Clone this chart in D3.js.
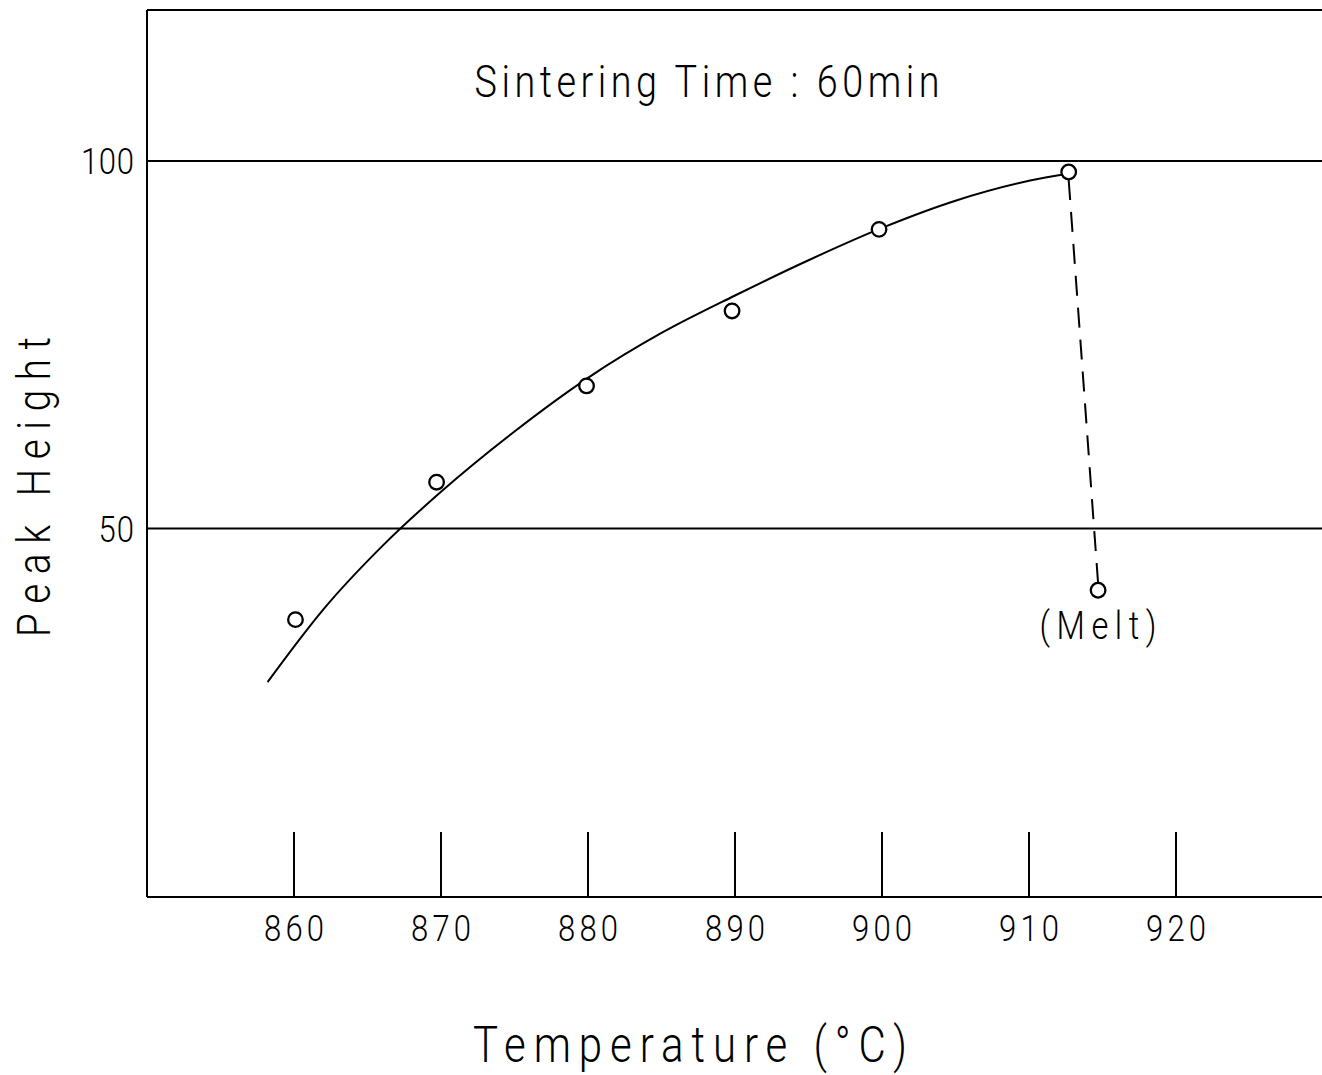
<!DOCTYPE html>
<html>
<head>
<meta charset="utf-8">
<script src="https://cdn.jsdelivr.net/npm/d3@7"></script>
<style>
html,body{margin:0;padding:0;background:#fff;}
svg{display:block;}
text{font-family:"Roboto","DejaVu Sans",sans-serif;font-weight:300;fill:#000;}
</style>
</head>
<body>
<svg id="chart" width="1322" height="1075"></svg>
<script>
// ---- data ----
const xTicks = [860, 870, 880, 890, 900, 910, 920];
const yTicks = [50, 100];
const pointTemps   = [860.1, 869.7, 879.9, 889.8, 899.8, 912.7];
const pointHeights = [37.6, 56.3, 69.4, 79.6, 90.7, 98.5];
const meltTemp = 914.7, meltHeight = 41.6;
const curveTemps   = [858.2, 862, 866, 870, 875, 880, 885, 890, 895, 900, 905, 910, 912.7];
const curveHeights = [29.1, 39.0, 47.6, 55.0, 63.2, 70.5, 76.6, 81.7, 86.5, 90.9, 94.6, 97.3, 98.3];
const title = "Sintering Time : 60min";
const xLabel = "Temperature (°C)";
const yLabel = "Peak Height";
const meltLabel = "(Melt)";

(function () {
const svg = d3.select("#chart");
const pL = 147, pR = 1323, pT = 10, pB = 896;
const x = d3.scaleLinear().domain([850, 930]).range([pL, pR]);
const y = d3.scaleLinear().domain([0, 100]).range([pB, 161]);
const yTop = y.invert(pT);
const sw = 2;

// plotter-like text: glyphs narrowed, spaced out to a given width
function ptext(g, str, cx, cy, size, width, rot) {
  const sx = 0.84;
  return g.append("g")
    .attr("transform", `translate(${cx},${cy}) rotate(${rot || 0}) scale(${sx},1)`)
    .append("text")
    .attr("x", 0).attr("y", 0)
    .attr("text-anchor", "middle").attr("font-size", size)
    .attr("textLength", width / sx).attr("lengthAdjust", "spacing")
    .text(str);
}

// frame
svg.append("line").attr("x1", pL).attr("x2", 1322).attr("y1", y(yTop)).attr("y2", y(yTop)).attr("stroke", "#000").attr("stroke-width", sw);
svg.append("line").attr("x1", pL).attr("x2", pL).attr("y1", y(yTop)).attr("y2", y(0)+1).attr("stroke", "#000").attr("stroke-width", sw);
svg.append("line").attr("x1", pL).attr("x2", 1322).attr("y1", y(0)+1).attr("y2", y(0)+1).attr("stroke", "#000").attr("stroke-width", sw);

// horizontal grid lines
svg.selectAll(".grid").data(yTicks).enter().append("line")
  .attr("x1", pL).attr("x2", 1322)
  .attr("y1", d => y(d)).attr("y2", d => y(d))
  .attr("stroke", "#000").attr("stroke-width", sw);

// y tick labels
yTicks.forEach(d => {
  const w = String(d).length * 17.7;
  ptext(svg, String(d), 134 - w / 2, y(d) + 13, 37, w);
});

// x ticks (tall, inward)
svg.selectAll(".xt").data(xTicks).enter().append("line")
  .attr("x1", d => x(d)).attr("x2", d => x(d))
  .attr("y1", y(0) - 64).attr("y2", y(0) + 1)
  .attr("stroke", "#000").attr("stroke-width", sw);

xTicks.forEach(d => ptext(svg, String(d), x(d), 941, 37, 60));

// fitted curve
const curveData = curveTemps.map((t, i) => [t, curveHeights[i]]);
svg.append("path").datum(curveData)
  .attr("d", d3.line().x(d => x(d[0])).y(d => y(d[1])).curve(d3.curveMonotoneX))
  .attr("fill", "none").attr("stroke", "#000").attr("stroke-width", sw);

// dashed line to melt point
const lastT = pointTemps[pointTemps.length - 1], lastH = pointHeights[pointHeights.length - 1];
svg.append("line")
  .attr("x1", x(lastT)).attr("y1", y(lastH) + 8)
  .attr("x2", x(meltTemp)).attr("y2", y(meltHeight) - 7)
  .attr("stroke", "#000").attr("stroke-width", sw).attr("stroke-dasharray", "20,12");

// points
const pts = pointTemps.map((t, i) => [t, pointHeights[i]]).concat([[meltTemp, meltHeight]]);
svg.selectAll(".pt").data(pts).enter().append("circle")
  .attr("cx", d => x(d[0])).attr("cy", d => y(d[1])).attr("r", 7.3)
  .attr("fill", "#fff").attr("stroke", "#000").attr("stroke-width", 2.3);

// texts
ptext(svg, title, 707, 97, 45, 465);
ptext(svg, meltLabel, 1098, 639, 39, 117);
ptext(svg, xLabel, 690, 1062, 50, 434);
ptext(svg, yLabel, 50, 487, 46, 300, -90);
})();
</script>
</body>
</html>
